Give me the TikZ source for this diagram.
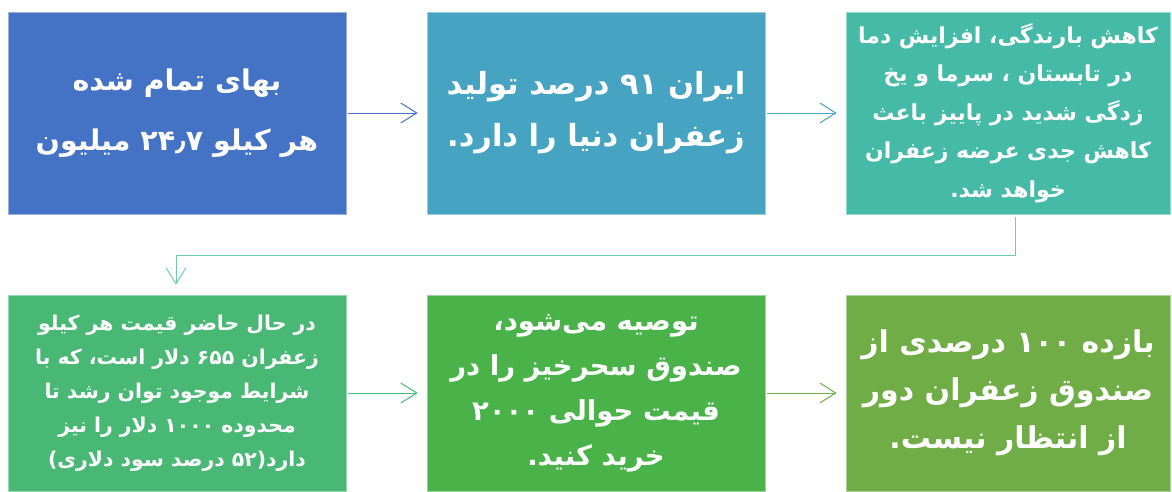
\documentclass[tikz,border=0pt]{standalone}
\usepackage{fontspec}
\usetikzlibrary{arrows.meta}
\TeXXeTstate=1
\newfontfamily\fa[Script=Arabic]{DejaVu Sans}
\newcommand\rl[1]{\beginR #1\endR}

\definecolor{cA}{HTML}{4472C4}
\definecolor{cB}{HTML}{46A3C2}
\definecolor{cC}{HTML}{45BBA7}
\definecolor{cD}{HTML}{48B874}
\definecolor{cE}{HTML}{49B249}
\definecolor{cF}{HTML}{70AD47}
\definecolor{cElbow}{HTML}{6FCBA9}

\tikzset{
  stepbox/.style={rectangle, inner sep=0pt, minimum height=202pt,
    minimum width=338pt, text=white, align=center,
    draw=#1!55!white, line width=0.6pt, fill=#1},
  txt/.style 2 args={font={\fa\bfseries\fontsize{#1}{#2}\selectfont}},
  link/.style={draw=#1, line width=1pt,
    -{Straight Barb[length=16pt,width=20pt,line width=1pt]}},
}

\begin{document}
\begin{tikzpicture}[x=1pt,y=-1pt]
\useasboundingbox (0,0) rectangle (1172,491);

% upper row
\node[stepbox=cA, txt={28.5}{60}] (b1) at (177,113)
  {\rl{بهای تمام شده}\\
   \rl{هر کیلو ۲۴٫۷ میلیون}};
\node[stepbox=cB, txt={30.5}{52}] (b2) at (596,113)
  {\rl{ایران ۹۱ درصد تولید}\\
   \rl{زعفران دنیا را دارد.}};
\node[stepbox=cC, minimum width=324pt, txt={22}{38.5}] (b3) at (1008,113)
  {\rl{کاهش بارندگی، افزایش دما}\\
   \rl{در تابستان ، سرما و یخ}\\
   \rl{زدگی شدید در پاییز باعث}\\
   \rl{کاهش جدی عرضه زعفران}\\
   \rl{خواهد شد.}};

% lower row
\node[stepbox=cD, minimum height=196pt, txt={20.4}{34}] (b4) at (177,393)
  {\rl{در حال حاضر قیمت هر کیلو}\\
   \rl{زعفران ۶۵۵ دلار است، که با}\\
   \rl{شرایط موجود توان رشد تا}\\
   \rl{محدوده ۱۰۰۰ دلار را نیز}\\
   \rl{دارد(۵۲ درصد سود  دلاری)}};
\node[stepbox=cE, minimum height=196pt, txt={27.5}{45}] (b5) at (596,393)
  {\rl{توصیه می‌شود،}\\
   \rl{صندوق سحرخیز را در}\\
   \rl{قیمت حوالی ۲۰۰۰}\\
   \rl{خرید کنید.}};
\node[stepbox=cF, minimum height=196pt, minimum width=324pt, txt={30}{48}] (b6) at (1008,393)
  {\rl{بازده ۱۰۰ درصدی از}\\
   \rl{صندوق زعفران دور}\\
   \rl{از انتظار نیست.}};

% connectors
\draw[link=cA] ([xshift=2pt]b1.east) -- ([xshift=-9pt]b2.west);
\draw[link=cB] ([xshift=2pt]b2.east) -- ([xshift=-9pt]b3.west);
\draw[link=cElbow] ([xshift=7pt,yshift=-3pt]b3.south) -- ++(0,38)
  -| ([xshift=-1pt,yshift=10pt]b4.north);
\draw[link=cD] ([xshift=2pt]b4.east) -- ([xshift=-9pt]b5.west);
\draw[link=cF] ([xshift=2pt]b5.east) -- ([xshift=-9pt]b6.west);
\end{tikzpicture}
\end{document}
